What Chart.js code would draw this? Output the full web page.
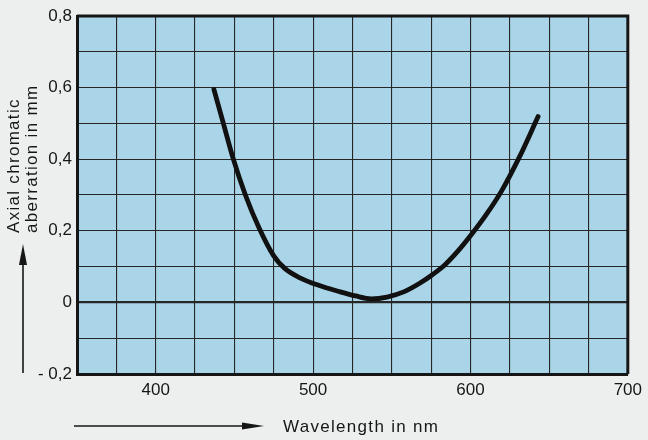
<!DOCTYPE html>
<html><head><meta charset="utf-8">
<script src="https://cdn.jsdelivr.net/npm/chart.js@4/dist/chart.umd.min.js"></script>
<style>html,body{margin:0;padding:0;background:#eceeed;overflow:hidden}</style>
</head><body>
<canvas id="c" width="648" height="440"></canvas>
<script>
// Data
const wavelengthNm = [437, 443, 449, 457, 466, 475, 482, 492, 504, 516, 527, 537, 547, 558, 568, 576, 584, 592, 600, 610, 620, 631, 643];
const aberrationMm = [0.595, 0.50, 0.405, 0.30, 0.205, 0.13, 0.095, 0.068, 0.047, 0.031, 0.018, 0.010, 0.015, 0.030, 0.054, 0.078, 0.106, 0.143, 0.186, 0.245, 0.313, 0.405, 0.519];
const xTickLabels = ['', '', '400', '', '', '', '500', '', '', '', '600', '', '', '', '700'];
const yTickLabels = ['- 0,2', '', '0', '', '0,2', '', '0,4', '', '0,6', '', '0,8'];
const xTitle = 'Wavelength in nm';
const yTitleLines = ['Axial chromatic', 'aberration in mm'];

const FONT = '"Liberation Sans", Arial, Helvetica, sans-serif';
const INK = '#161616';

const decor = {
  id: 'decor',
  beforeDraw(chart) {
    const {ctx, chartArea: a} = chart;
    ctx.save();
    ctx.fillStyle = '#edefee';
    ctx.fillRect(0, 0, chart.width, chart.height);
    ctx.fillStyle = '#aad5e8';
    ctx.fillRect(a.left, a.top, a.right - a.left, a.bottom - a.top);
    ctx.restore();
  },
  afterDatasetsDraw(chart) {
    const {ctx, chartArea: a} = chart;
    ctx.save();
    ctx.strokeStyle = INK;
    ctx.lineWidth = 3;
    ctx.beginPath();
    ctx.moveTo(a.left, a.top);
    ctx.lineTo(a.right, a.top);
    ctx.lineTo(a.right, a.bottom);
    ctx.stroke();
    ctx.restore();
  },
  afterDraw(chart) {
    const {ctx} = chart;
    ctx.save();
    ctx.fillStyle = INK;
    ctx.strokeStyle = INK;
    // y arrow
    ctx.lineWidth = 1.6;
    ctx.beginPath(); ctx.moveTo(23, 373); ctx.lineTo(23, 258); ctx.stroke();
    ctx.beginPath(); ctx.moveTo(23, 244); ctx.lineTo(27, 265); ctx.lineTo(19, 265); ctx.closePath(); ctx.fill();
    // x arrow
    ctx.beginPath(); ctx.moveTo(74, 426); ctx.lineTo(250, 426); ctx.stroke();
    ctx.beginPath(); ctx.moveTo(264, 426); ctx.lineTo(242, 422.5); ctx.lineTo(242, 429.5); ctx.closePath(); ctx.fill();
    // titles
    ctx.font = '17px ' + FONT;
    ctx.letterSpacing = '1.3px';
    ctx.textBaseline = 'middle';
    ctx.textAlign = 'left';
    ctx.fillText(xTitle, 283, 427);
    ctx.save();
    ctx.translate(14, 233);
    ctx.rotate(-Math.PI / 2);
    ctx.fillText(yTitleLines[0], 0, 0);
    ctx.restore();
    ctx.save();
    ctx.translate(32, 233);
    ctx.rotate(-Math.PI / 2);
    ctx.fillText(yTitleLines[1], 0, 0);
    ctx.restore();
    ctx.restore();
  }
};

new Chart(document.getElementById('c'), {
  type: 'line',
  data: {
    datasets: [{
      data: wavelengthNm.map((x, i) => ({x: x, y: aberrationMm[i]})),
      borderColor: '#111',
      borderWidth: 4.8,
      pointRadius: 0,
      cubicInterpolationMode: 'monotone',
      borderCapStyle: 'round',
      borderJoinStyle: 'round',
      fill: false
    }]
  },
  options: {
    responsive: false,
    animation: false,
    devicePixelRatio: 1,
    layout: {padding: {left: 0, top: 16, right: 17, bottom: 0}},
    plugins: {legend: {display: false}, tooltip: {enabled: false}},
    scales: {
      x: {
        type: 'linear', min: 350, max: 700,
        afterFit(s) { s.height = 66; },
        ticks: {
          stepSize: 25, autoSkip: false, maxRotation: 0, padding: 6,
          color: INK, font: {size: 17, family: FONT},
          callback: (v, i) => xTickLabels[i] ?? ''
        },
        grid: {color: '#262626', lineWidth: 1.1, drawTicks: false},
        border: {display: true, color: INK, width: 3}
      },
      y: {
        type: 'linear', min: -0.2, max: 0.8,
        afterFit(s) { s.width = 77; },
        ticks: {
          stepSize: 0.1, autoSkip: false, padding: 5,
          color: INK, font: {size: 17, family: FONT},
          callback: (v, i) => yTickLabels[i] ?? ''
        },
        grid: {
          color: '#262626', drawTicks: false,
          lineWidth: c => (c.tick && Math.abs(c.tick.value) < 1e-9) ? 2.2 : 1.1
        },
        border: {display: true, color: INK, width: 3}
      }
    }
  },
  plugins: [decor]
});
</script>
</body></html>
